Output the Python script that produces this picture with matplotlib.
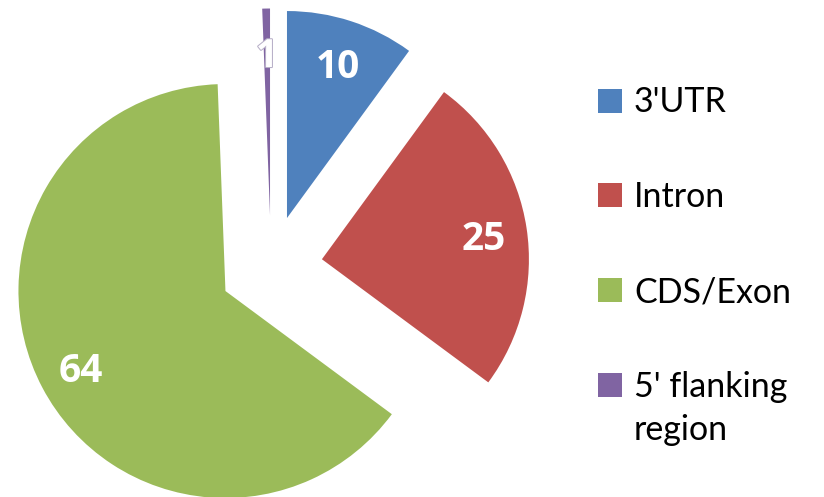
import numpy as np
import matplotlib.pyplot as plt
import matplotlib.patheffects as pe
from matplotlib.patches import Rectangle

# data
categories = ["3'UTR", "Intron", "CDS/Exon", "5' flanking\nregion"]
values = [10, 25, 64, 0.6]
colors = ['#4F81BD', '#C0504D', '#9BBB59', '#8064A2']

W, H = 824, 497
plt.rcParams['font.family'] = ['Lato', 'DejaVu Sans']

fig = plt.figure(figsize=(W / 100, H / 100), dpi=100)
ax = fig.add_axes([0, 0, 1, 1])

radius = 207
wedges, texts = ax.pie(
    values, colors=colors, startangle=90, counterclock=False,
    radius=radius, center=(271, 230), explode=[51.5] * len(values),
    wedgeprops=dict(linewidth=0),
)

# value labels along each wedge's middle angle
for w, v in zip(wedges, values):
    th = np.deg2rad((w.theta1 + w.theta2) / 2)
    cx, cy = w.center
    t = ax.text(cx + 0.79 * radius * np.cos(th), cy + 0.79 * radius * np.sin(th),
                f'{v:.0f}', color='white', fontsize=28, fontweight='bold',
                family=['Open Sans', 'DejaVu Sans'], ha='center', va='center_baseline')
    if v < 5:
        t.set_path_effects([pe.withStroke(linewidth=1.5, foreground='#b8b0c8')])

ax.set_xlim(0, W)
ax.set_ylim(0, H)
ax.set_aspect('equal')
ax.axis('off')

# legend drawn by hand
row_y = [396.5, 302, 207, 112]
for y, lab, col in zip(row_y, categories, colors):
    ax.add_patch(Rectangle((598, y - 12), 24, 24, facecolor=col, edgecolor='none', clip_on=False))
    for i, line in enumerate(lab.split('\n')):
        ax.text(634, y - 12 - i * 43, line, fontsize=24.5, color='black', va='baseline', ha='left')

fig.savefig('out.png', dpi=100)
